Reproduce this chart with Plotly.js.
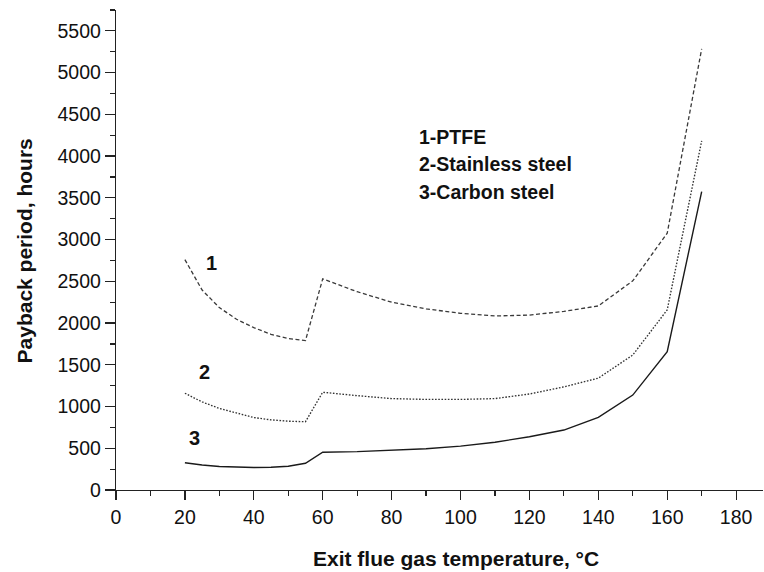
<!DOCTYPE html>
<html>
<head>
<meta charset="utf-8">
<script src="https://cdn.plot.ly/plotly-3.0.1.min.js"></script>
<style>
  html, body { margin: 0; padding: 0; background: #ffffff; }
  #chart { width: 764px; height: 572px; }
</style>
</head>
<body>
<div id="chart"></div>
<script>
// Exit flue gas temperature, °C
const temperature = [20, 25, 30, 35, 40, 45, 50, 55, 60, 70, 80, 90, 100, 110, 120, 130, 140, 150, 160, 170];

// Payback period, hours
const ptfe = [2760, 2395, 2185, 2045, 1945, 1865, 1815, 1790, 2530, 2375, 2250, 2170, 2117, 2085, 2095, 2140, 2205, 2505, 3076, 5285];
const stainlessSteel = [1159, 1055, 977, 918, 868, 840, 824, 818, 1171, 1130, 1095, 1085, 1085, 1095, 1150, 1235, 1340, 1617, 2158, 4182];
const carbonSteel = [327, 300, 282, 272, 270, 272, 285, 320, 452, 460, 475, 495, 525, 572, 638, 718, 870, 1137, 1657, 3575];

const seriesNames = ["1-PTFE", "2-Stainless steel", "3-Carbon steel"];
const curveLabels = ["1", "2", "3"];
const curveLabelX = [27.8, 25.8, 22.9];
const curveLabelY = [2724, 1418, 620];

const xTickValues = [0, 20, 40, 60, 80, 100, 120, 140, 160, 180];
const yTickValues = [0, 500, 1000, 1500, 2000, 2500, 3000, 3500, 4000, 4500, 5000, 5500];

const xTitle = "Exit flue gas temperature, °C";
const yTitle = "Payback period, hours";

const FONT = "Arial, 'Liberation Sans', sans-serif";
const AXIS = "#222222";

const traces = [
  {
    x: temperature, y: ptfe, name: seriesNames[0], type: "scatter", mode: "lines",
    line: { color: "#3a3a3a", width: 1.3, dash: "4px,2.5px" }
  },
  {
    x: temperature, y: stainlessSteel, name: seriesNames[1], type: "scatter", mode: "lines",
    line: { color: "#333333", width: 1.35, dash: "1.6px,1.6px" }
  },
  {
    x: temperature, y: carbonSteel, name: seriesNames[2], type: "scatter", mode: "lines",
    line: { color: "#1a1a1a", width: 1.4 }
  }
];

const annotations = [];
for (let i = 0; i < curveLabels.length; i++) {
  annotations.push({
    x: curveLabelX[i], y: curveLabelY[i], xref: "x", yref: "y",
    text: "<b>" + curveLabels[i] + "</b>", showarrow: false,
    xanchor: "center", yanchor: "middle",
    font: { family: FONT, size: 20, color: "#111111" }
  });
}
const legendY = [4234, 3903, 3575];
for (let i = 0; i < seriesNames.length; i++) {
  annotations.push({
    x: 87.4, y: legendY[i], xref: "x", yref: "y",
    text: "<b>" + seriesNames[i] + "</b>", showarrow: false,
    xanchor: "left", yanchor: "middle",
    font: { family: FONT, size: 19.5, color: "#111111" }
  });
}
annotations.push({
  x: 0.5255, y: -0.1417, xref: "paper", yref: "paper",
  text: "<b>" + xTitle + "</b>", showarrow: false,
  xanchor: "center", yanchor: "middle",
  font: { family: FONT, size: 21, color: "#111111" }
});
annotations.push({
  x: -0.1422, y: 0.499, xref: "paper", yref: "paper",
  text: "<b>" + yTitle + "</b>", showarrow: false, textangle: -90,
  xanchor: "center", yanchor: "middle",
  font: { family: FONT, size: 21, color: "#111111" }
});

const layout = {
  width: 764, height: 572,
  margin: { l: 116, r: 1, t: 10, b: 82, pad: 0 },
  paper_bgcolor: "#ffffff", plot_bgcolor: "#ffffff",
  showlegend: false,
  font: { family: FONT, color: "#111111" },
  xaxis: {
    range: [0, 187.8], autorange: false,
    tickmode: "array", tickvals: xTickValues,
    ticks: "outside", ticklen: 9, tickwidth: 1.2, tickcolor: AXIS,
    minor: { ticks: "outside", ticklen: 4.5, tickwidth: 1.2, tickcolor: AXIS, dtick: 10, tick0: 0, showgrid: false },
    showline: true, linecolor: AXIS, linewidth: 1.2,
    showgrid: false, zeroline: false,
    tickfont: { family: FONT, size: 19.5, color: "#111111" }
  },
  yaxis: {
    range: [0, 5750], autorange: false,
    tickmode: "array", tickvals: yTickValues,
    ticks: "outside", ticklen: 10, tickwidth: 1.2, tickcolor: AXIS,
    minor: { ticks: "outside", ticklen: 5, tickwidth: 1.2, tickcolor: AXIS, dtick: 250, tick0: 0, showgrid: false },
    showline: true, linecolor: AXIS, linewidth: 1.2,
    showgrid: false, zeroline: false,
    tickfont: { family: FONT, size: 19.5, color: "#111111" }
  },
  annotations: annotations
};

Plotly.newPlot("chart", traces, layout, { displayModeBar: false, staticPlot: true });
</script>
</body>
</html>
